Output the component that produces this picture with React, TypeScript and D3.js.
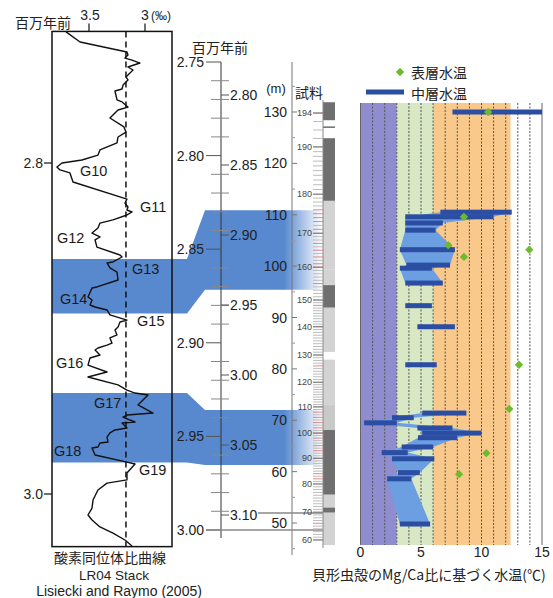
import React from "react";
import * as d3 from "d3";

// ---------- Panel 1: LR04 benthic δ18O stack (age Ma, ‰) ----------
const lr04Age = [
  2.7208, 2.7269, 2.7329, 2.7347, 2.7366, 2.7378, 2.7396, 2.742, 2.7438, 2.748,
  2.7498, 2.7529, 2.7553, 2.7565, 2.7619, 2.7631, 2.7662, 2.768, 2.771, 2.7728,
  2.7782, 2.7813, 2.7843, 2.7879, 2.7921, 2.7952, 2.7982, 2.8, 2.8024, 2.8042,
  2.806, 2.8115, 2.8218, 2.8242, 2.8266, 2.8284, 2.8296, 2.8314, 2.8344, 2.8363,
  2.8393, 2.8423, 2.8447, 2.8465, 2.8508, 2.8556, 2.8568, 2.8598, 2.8604, 2.8634,
  2.8659, 2.8707, 2.8749, 2.8755, 2.881, 2.8828, 2.8858, 2.887, 2.8888, 2.8918,
  2.8949, 2.8961, 2.8991, 2.9009, 2.9039, 2.9057, 2.9088, 2.91, 2.9118, 2.913,
  2.916, 2.9178, 2.9221, 2.9263, 2.9293, 2.9341, 2.9372, 2.939, 2.9402, 2.9462,
  2.9511, 2.9523, 2.9535, 2.9553, 2.9565, 2.9571, 2.9601, 2.9613, 2.9631, 2.9656,
  2.9686, 2.9692, 2.9716, 2.9722, 2.9764, 2.9807, 2.9819, 2.9873, 2.9915, 2.9934,
  2.9976, 3.0036, 3.0085, 3.0127, 3.0157, 3.0199, 3.0236, 3.0278, 3.0314,
];
const lr04D18O = [
  3.705, 3.58, 3.161, 3.152, 3.179, 3.116, 3.045, 3.152, 3.107, 3.17,
  3.152, 3.196, 3.205, 3.268, 3.25, 3.205, 3.152, 3.241, 3.286, 3.313,
  3.188, 3.17, 3.241, 3.25, 3.402, 3.42, 3.563, 3.741, 3.786, 3.759,
  3.67, 3.643, 3.161, 3.179, 3.152, 3.161, 3.116, 3.161, 3.286, 3.402,
  3.42, 3.473, 3.402, 3.446, 3.429, 3.223, 3.205, 3.286, 3.339, 3.313,
  3.25, 3.241, 3.429, 3.473, 3.509, 3.473, 3.491, 3.446, 3.339, 3.313,
  3.161, 3.223, 3.241, 3.268, 3.25, 3.313, 3.295, 3.339, 3.42, 3.446,
  3.402, 3.491, 3.509, 3.339, 3.509, 3.241, 3.161, 3.089, 2.973, 3.063,
  2.929, 3.161, 3.196, 3.134, 3.089, 3.205, 3.161, 3.268, 3.313, 3.339,
  3.33, 3.402, 3.42, 3.473, 3.446, 3.161, 3.089, 3.161, 3.161, 3.339,
  3.42, 3.464, 3.473, 3.509, 3.473, 3.402, 3.286, 3.179, 3.116,
];
const lr04Reference = 3.17;
const lr04AgeExtent = [2.7205, 3.0318];
const lr04TopTicks = [3.5, 3.0];
const lr04AgeTicks = [2.8, 3.0];

const stageLabels = ["G10", "G11", "G12", "G13", "G14", "G15", "G16", "G17", "G18", "G19"];
const stageAge = [2.8048, 2.8266, 2.8453, 2.864, 2.8822, 2.8955, 2.9208, 2.945, 2.974, 2.9855];
const stageD18O = [3.58, 3.045, 3.786, 3.116, 3.759, 3.071, 3.795, 3.455, 3.813, 3.054];

// Correlated intervals: LR04 ages and core depths
const bandAgeTop = [2.858, 2.939];
const bandAgeBottom = [2.891, 2.981];
const bandDepthTop = [110.9, 72.0];
const bandDepthBottom = [95.4, 61.3];

// ---------- Panel 2: age / depth / samples ----------
const outerAgeTicks = [2.75, 2.8, 2.85, 2.9, 2.95, 3.0];
const innerAgeTicks = [2.8, 2.85, 2.9, 2.95, 3.0, 3.05, 3.1];
const depthTicks = [50, 60, 70, 80, 90, 100, 110, 120, 130];
const sampleLabelNums = [194, 190, 180, 170, 160, 150, 140, 130, 120, 110, 100, 90, 80, 70, 60];
const sampleLabelDepths = [129.8, 123.2, 114.0, 106.4, 99.8, 93.4, 88.2, 82.7, 77.4, 72.6, 67.5, 62.6, 57.6, 52.1, 46.7];
const redSamples = [194, 176, 175, 174, 173, 171, 167, 165, 163, 161, 160, 155, 148, 140, 126, 108, 106, 104, 102, 100, 98, 95, 93, 90, 84, 82, 66];
const coreTop = [131.9, 127.2, 124.9, 112.7, 99.3, 96.3, 91.9, 81.8, 73.0, 68.1, 55.5, 53.0, 52.0];
const coreBottom = [128.4, 126.9, 112.7, 99.3, 96.3, 91.9, 83.3, 73.0, 68.1, 55.5, 53.0, 52.0, 45.7];
const coreKind = ["dark", "dark", "dark", "light", "light", "dark", "light", "light", "hatch", "dark", "light", "dark", "light"];

// ---------- Panel 3: ostracod Mg/Ca temperatures ----------
const tempZoneEdges = [0, 3, 6, 12.4];
const tempTicks = [0, 5, 10, 15];
const midDepth = [130.0, 110.5, 109.6, 108.4, 107.0, 103.2, 100.2, 99.6, 96.7, 92.3, 88.2, 80.8,
  71.4, 70.5, 69.5, 68.5, 67.5, 66.6, 64.8, 63.7, 62.5, 59.8, 58.6, 49.8];
const midTmin = [7.6, 6.6, 3.7, 3.7, 3.7, 3.25, 3.8, 3.25, 3.7, 3.7, 4.7, 3.7,
  5.1, 2.6, 0.3, 4.7, 5.1, 4.75, 3.4, 1.75, 2.6, 3.1, 2.2, 3.25];
const midTmax = [15.0, 12.5, 11.0, 6.8, 6.2, 7.8, 7.4, 5.9, 6.8, 5.9, 7.8, 6.3,
  8.75, 4.4, 3.0, 7.6, 10.0, 8.0, 6.0, 3.9, 6.1, 4.9, 4.2, 5.75];
const midGroup = [0, 1, 1, 1, 1, 1, 1, 1, 1, 2, 3, 4, 5, 5, 5, 5, 5, 5, 5, 5, 5, 5, 5, 5];
const surfDepth = [130.0, 109.6, 104.1, 103.2, 101.8, 80.8, 72.2, 63.6, 59.5];
const surfTemp = [10.55, 8.55, 7.25, 13.95, 8.55, 13.1, 12.3, 10.4, 8.15];

// ---------- styles ----------
const FONT = "'Liberation Sans', Arial, 'Noto Sans CJK JP', sans-serif";
const CJK = "'Noto Sans CJK JP', 'Liberation Sans', sans-serif";
const BAND = "#5889cf";
const ZONE_COLORS = ["#8f8dcf", "#d8e7c4", "#f9c98c"];
const BAR = "#2b4ea3";
const FILL = "#6c9ee2";
const GREEN = "#6cbb2e";
const CORE = { dark: "#6f6f6f", light: "#d3d3d3", hatch: "#c9c9c9" } as Record<string, string>;

export default function App() {
  const p1x = d3.scaleLinear().domain([3.5, 3.0]).range([89, 145]);
  const p1y = d3.scaleLinear().domain([2.8, 3.0]).range([163, 494]);
  const boxL = 52, boxR = 172;
  const boxT = p1y(lr04AgeExtent[0]);
  const boxB = p1y(lr04AgeExtent[1]);

  const ageOuter = d3.scaleLinear().domain([2.75, 3.0]).range([62, 530]);
  const ageInner = d3.scaleLinear().domain([2.8, 3.1]).range([95, 515]);
  const depthY = d3.scaleLinear().domain([50, 130]).range([523, 112]);
  const sampleDepth = d3.scaleLinear().domain(sampleLabelNums).range(sampleLabelDepths);
  const tx = d3.scaleLinear().domain([0, 15]).range([360.5, 542]);
  const tTop = 103, tBottom = 545;

  const lr04Pts: [number, number][] = lr04Age.map((a, i) => [a, lr04D18O[i]]);
  const lr04Line = d3.line<[number, number]>().x(d => p1x(d[1])).y(d => p1y(d[0]))(lr04Pts) || "";

  const bands = bandAgeTop.map((_, i) => {
    const t1 = p1y(bandAgeTop[i]), b1 = p1y(bandAgeBottom[i]);
    const t2 = depthY(bandDepthTop[i]), b2 = depthY(bandDepthBottom[i]);
    return [[boxL, t1], [187, t1], [205, t2], [322, t2], [322, b2], [205, b2], [187, b1], [boxL, b1]]
      .map(p => p.join(",")).join(" ");
  });

  const outerMinor = d3.range(0, 26).map(i => 2.75 + i * 0.01)
    .filter(v => !outerAgeTicks.some(t => Math.abs(t - v) < 1e-6));
  const depthMinor = d3.range(45, 140, 5).filter(v => v % 10 !== 0);
  const samples = d3.range(60, 195);

  const bars = midDepth.map((d, i) => ({ d, lo: midTmin[i], hi: midTmax[i], g: midGroup[i] }));
  const groups = d3.groups(bars, b => b.g).filter(([, v]) => v.length > 1);
  const area = d3.area<{ d: number; lo: number; hi: number }>()
    .x0(b => tx(b.lo)).x1(b => tx(b.hi)).y(b => depthY(b.d));
  const diamond = d3.symbol().type(d3.symbolDiamond2).size(44)() || "";

  const gridTemps = d3.range(1, 15);

  return (
    <svg width={553} height={598} style={{ position: "absolute", left: 0, top: 0, background: "#fff" }}
      fontFamily={FONT}>
      <defs>
        <linearGradient id="bandGrad" gradientUnits="userSpaceOnUse" x1={52} y1={0} x2={322} y2={0}>
          <stop offset="0" stopColor={BAND} />
          <stop offset="0.86" stopColor={BAND} />
          <stop offset="1" stopColor={BAND} stopOpacity={0} />
        </linearGradient>
      </defs>

      {/* correlation bands */}
      {bands.map((pts, i) => <polygon key={i} points={pts} fill="url(#bandGrad)" />)}

      {/* ---------- Panel 1 ---------- */}
      <rect x={boxL} y={boxT} width={boxR - boxL} height={boxB - boxT} fill="none" stroke="#111" strokeWidth={1.5} />
      <line x1={p1x(lr04Reference)} x2={p1x(lr04Reference)} y1={boxT} y2={boxB} stroke="#111"
        strokeWidth={1.5} strokeDasharray="6,4" />
      <path d={lr04Line} fill="none" stroke="#111" strokeWidth={1.4} strokeLinejoin="round" />
      {lr04TopTicks.map(v => (
        <line key={v} x1={p1x(v)} x2={p1x(v)} y1={boxT - 8} y2={boxT} stroke="#111" strokeWidth={1.2} />
      ))}
      <text x={p1x(3.5) + 1} y={15} fontSize={14} textAnchor="middle" dominantBaseline="central" fill="#222">3.5</text>
      <text x={p1x(3.0)} y={15} fontSize={14} textAnchor="middle" dominantBaseline="central" fill="#222">3</text>
      <text x={151} y={16} fontSize={12} dominantBaseline="central" fill="#222">(‰)</text>
      <text x={15} y={22} fontSize={14} fontFamily={CJK} dominantBaseline="central" fill="#222">百万年前</text>
      {lr04AgeTicks.map(a => (
        <g key={a}>
          <line x1={44} x2={boxL} y1={p1y(a)} y2={p1y(a)} stroke="#111" strokeWidth={1.2} />
          <text x={43} y={p1y(a)} fontSize={14} textAnchor="end" dominantBaseline="central" fill="#222">{a.toFixed(1)}</text>
        </g>
      ))}
      {stageLabels.map((s, i) => (
        <text key={s} x={p1x(stageD18O[i])} y={p1y(stageAge[i])} fontSize={14.5} dominantBaseline="central"
          fill="#1a1a1a">{s}</text>
      ))}
      <text x={110} y={557} fontSize={14} fontFamily={CJK} textAnchor="middle" dominantBaseline="central" fill="#222">酸素同位体比曲線</text>
      <text x={114} y={575} fontSize={13.5} textAnchor="middle" dominantBaseline="central" fill="#222">LR04 Stack</text>
      <text x={119} y={590.5} fontSize={14} textAnchor="middle" dominantBaseline="central" fill="#222">Lisiecki and Raymo (2005)</text>

      {/* ---------- Panel 2 ---------- */}
      <text x={192} y={47} fontSize={14} fontFamily={CJK} dominantBaseline="central" fill="#222">百万年前</text>
      <line x1={221} x2={221} y1={62} y2={538} stroke="#333" strokeWidth={1} />
      <line x1={292} x2={292} y1={62} y2={555} stroke="#777" strokeWidth={1} />
      {outerAgeTicks.map(a => (
        <g key={a}>
          <line x1={206} x2={221} y1={ageOuter(a)} y2={ageOuter(a)} stroke="#555" strokeWidth={1} />
          <text x={204} y={ageOuter(a)} fontSize={14} textAnchor="end" dominantBaseline="central" fill="#222">{a.toFixed(2)}</text>
        </g>
      ))}
      {outerMinor.map(a => (
        <line key={a} x1={211} x2={229} y1={ageOuter(a)} y2={ageOuter(a)} stroke="#888" strokeWidth={1} />
      ))}
      {innerAgeTicks.map(a => (
        <g key={a}>
          <line x1={221} x2={229} y1={ageInner(a)} y2={ageInner(a)} stroke="#555" strokeWidth={1} />
          <text x={230} y={ageInner(a)} fontSize={14} dominantBaseline="central" fill="#222">{a.toFixed(2)}</text>
        </g>
      ))}
      <line x1={258} x2={323} y1={ageInner(3.1) - 2} y2={ageInner(3.1) - 2} stroke="#888" strokeWidth={1.5} />
      <line x1={206} x2={323} y1={ageOuter(3.0)} y2={ageOuter(3.0)} stroke="#888" strokeWidth={1.5} />
      <text x={276} y={88} fontSize={13} textAnchor="middle" dominantBaseline="central" fill="#222">(m)</text>
      {depthTicks.map(d => (
        <g key={d}>
          <line x1={292} x2={297} y1={depthY(d)} y2={depthY(d)} stroke="#777" strokeWidth={1} />
          <text x={287} y={depthY(d)} fontSize={14} textAnchor="end" dominantBaseline="central" fill="#222">{d}</text>
        </g>
      ))}
      {depthMinor.map(d => (
        <line key={d} x1={292} x2={295} y1={depthY(d)} y2={depthY(d)} stroke="#999" strokeWidth={1} />
      ))}

      {/* samples column */}
      <text x={309} y={92} fontSize={14} fontFamily={CJK} textAnchor="middle" dominantBaseline="central" fill="#222">試料</text>
      {coreTop.map((t, i) => (
        <rect key={i} x={323} width={12} y={depthY(t)} height={Math.max(1, depthY(coreBottom[i]) - depthY(t))}
          fill={CORE[coreKind[i]]} />
      ))}
      <line x1={323} x2={323} y1={100} y2={548} stroke="#888" strokeWidth={1} />
      {samples.map(n => {
        const y = depthY(sampleDepth(n));
        const red = redSamples.includes(n);
        return <line key={n} x1={313} x2={323} y1={y} y2={y} stroke={red ? "#e07a7a" : "#b5b5b5"} strokeWidth={0.9} />;
      })}
      {sampleLabelNums.map(n => (
        <g key={n}>
          <line x1={313} x2={323} y1={depthY(sampleDepth(n))} y2={depthY(sampleDepth(n))} stroke="#777" strokeWidth={1} />
          <text x={312} y={depthY(sampleDepth(n))} fontSize={9} textAnchor="end" dominantBaseline="central" fill="#444">{n}</text>
        </g>
      ))}

      {/* ---------- Panel 3 ---------- */}
      {ZONE_COLORS.map((c, i) => (
        <rect key={i} x={tx(tempZoneEdges[i])} y={tTop} width={tx(tempZoneEdges[i + 1]) - tx(tempZoneEdges[i])}
          height={tBottom - tTop} fill={c} />
      ))}
      {gridTemps.map(t => (
        <line key={t} x1={tx(t)} x2={tx(t)} y1={tTop} y2={tBottom} stroke="#555" strokeWidth={1} strokeDasharray="2,1.5" />
      ))}
      <line x1={tx(0)} x2={tx(0)} y1={tTop} y2={tBottom} stroke="#666" strokeWidth={1} />
      <line x1={tx(15)} x2={tx(15)} y1={tTop} y2={tBottom} stroke="#999" strokeWidth={1.5} />
      {groups.map(([g, v]) => <path key={g} d={area(v) || ""} fill={FILL} />)}
      {bars.map((b, i) => (
        <rect key={i} x={tx(b.lo)} y={depthY(b.d) - 2.5} width={tx(b.hi) - tx(b.lo)} height={5} fill={BAR} />
      ))}
      {surfDepth.map((d, i) => (
        <path key={i} d={diamond} transform={`translate(${tx(surfTemp[i])},${depthY(d)})`} fill={GREEN} />
      ))}
      {tempTicks.map(t => (
        <text key={t} x={tx(t)} y={552} fontSize={14} textAnchor="middle" dominantBaseline="central" fill="#222">{t}</text>
      ))}
      <text x={312} y={574} fontSize={14} fontFamily={CJK} dominantBaseline="central" fill="#222">貝形虫殻のMg/Ca比に基づく水温(℃)</text>

      {/* legend */}
      <path d={diamond} transform="translate(400,72)" fill={GREEN} />
      <text x={411} y={72} fontSize={14} fontFamily={CJK} dominantBaseline="central" fill="#222">表層水温</text>
      <line x1={366} x2={404} y1={92} y2={92} stroke={BAR} strokeWidth={5} />
      <text x={411} y={93} fontSize={14} fontFamily={CJK} dominantBaseline="central" fill="#222">中層水温</text>
    </svg>
  );
}
